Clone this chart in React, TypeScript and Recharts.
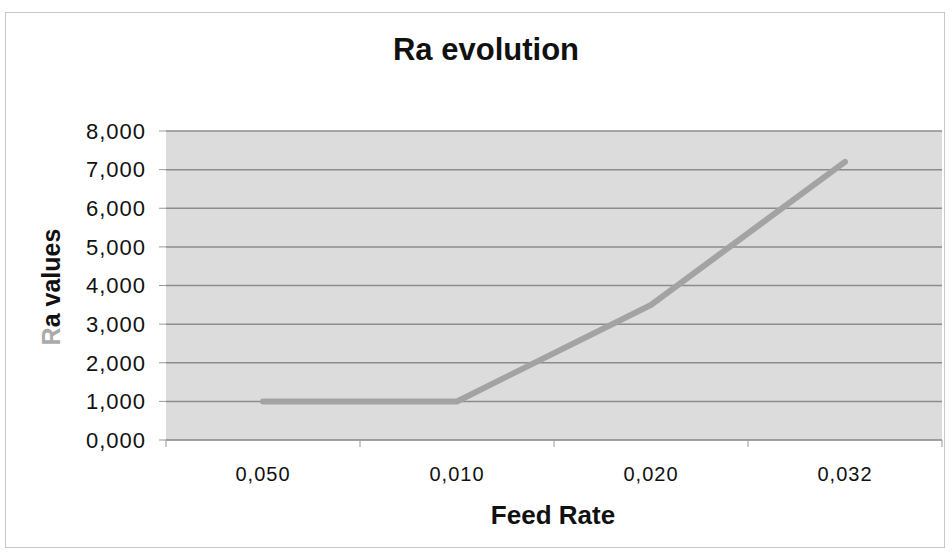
import React from "react";
import {CartesianGrid, Label, Line, LineChart, XAxis, YAxis} from "recharts";

const feedRates = ["0,050", "0,010", "0,020", "0,032"];
const raValues = [1.0, 1.0, 3.5, 7.2];
const yTicks = [0, 1, 2, 3, 4, 5, 6, 7, 8];

const data = feedRates.map((label, i) => ({label, ra: raValues[i]}));

const FONT = "'Liberation Sans', Arial, sans-serif";
const X_TICK_MARGIN = 27;

function fmt(v: number) {
  return v.toFixed(3).replace(".", ",");
}

// category label plus tick marks on the band edges, like Excel does
function XTick(props: any) {
  const {x, y, payload, index, visibleTicksCount} = props;
  const off = payload?.offset ?? 0;
  const axisY = y - X_TICK_MARGIN;
  const last = index === visibleTicksCount - 1;
  return (
    <g>
      <line x1={x - off} x2={x - off} y1={axisY} y2={axisY + 7} stroke="#999" />
      {last && (
        <line x1={x + off} x2={x + off} y1={axisY} y2={axisY + 7} stroke="#999" />
      )}
      <text
        x={x}
        y={y}
        dy="0.71em"
        textAnchor="middle"
        fontSize={20}
        letterSpacing={1}
        fill="#111"
        fontFamily={FONT}>
        {payload.value}
      </text>
    </g>
  );
}

export default function App() {
  return (
    <div
      style={{
        position: "absolute",
        left: 0,
        top: 0,
        width: 952,
        height: 554,
        background: "#fff",
        fontFamily: FONT,
      }}>
      <div
        style={{
          position: "absolute",
          left: 5,
          top: 12,
          width: 940,
          height: 536,
          border: "1px solid #c8c8c8",
          boxSizing: "border-box",
        }}
      />
      <div style={{position: "absolute", left: 0, top: 0}}>
        <LineChart
          width={952}
          height={554}
          data={data}
          margin={{top: 131, right: 10, bottom: 0, left: 0}}>
          <text
            x={486}
            y={60}
            textAnchor="middle"
            fontSize={31}
            fontWeight="bold"
            fill="#111"
            fontFamily={FONT}>
            Ra evolution
          </text>
          <CartesianGrid
            vertical={false}
            stroke="#8c8c8c"
            strokeWidth={1.5}
            fill="#dcdcdc"
          />
          <XAxis
            dataKey="label"
            scale="band"
            height={114}
            tick={<XTick />}
            tickLine={false}
            tickSize={0}
            tickMargin={X_TICK_MARGIN}
            stroke="#999"
            interval={0}>
            <Label
              value="Feed Rate"
              position="insideBottom"
              offset={30}
              dx={-1}
              style={{fontSize: 26, fontWeight: "bold", fill: "#111", fontFamily: FONT}}
            />
          </XAxis>
          <YAxis
            width={166}
            domain={[0, 8]}
            ticks={yTicks}
            tickFormatter={fmt}
            tick={{fontSize: 22, fill: "#111", fontFamily: FONT, letterSpacing: 1}}
            tickSize={7}
            tickMargin={13}
            stroke="#999"
            axisLine={false}>
            <Label
              angle={-90}
              position="insideLeft"
              content={() => (
                <text
                  x={60}
                  y={287}
                  transform="rotate(-90 60 287)"
                  textAnchor="middle"
                  fontSize={25}
                  fontWeight="bold"
                  fontFamily={FONT}>
                  <tspan fill="#aaaaaa">R</tspan>
                  <tspan fill="#111">a values</tspan>
                </text>
              )}
            />
          </YAxis>
          <Line
            type="linear"
            dataKey="ra"
            stroke="#a3a3a3"
            strokeWidth={6}
            strokeLinecap="round"
            dot={false}
            isAnimationActive={false}
          />
        </LineChart>
      </div>
    </div>
  );
}
